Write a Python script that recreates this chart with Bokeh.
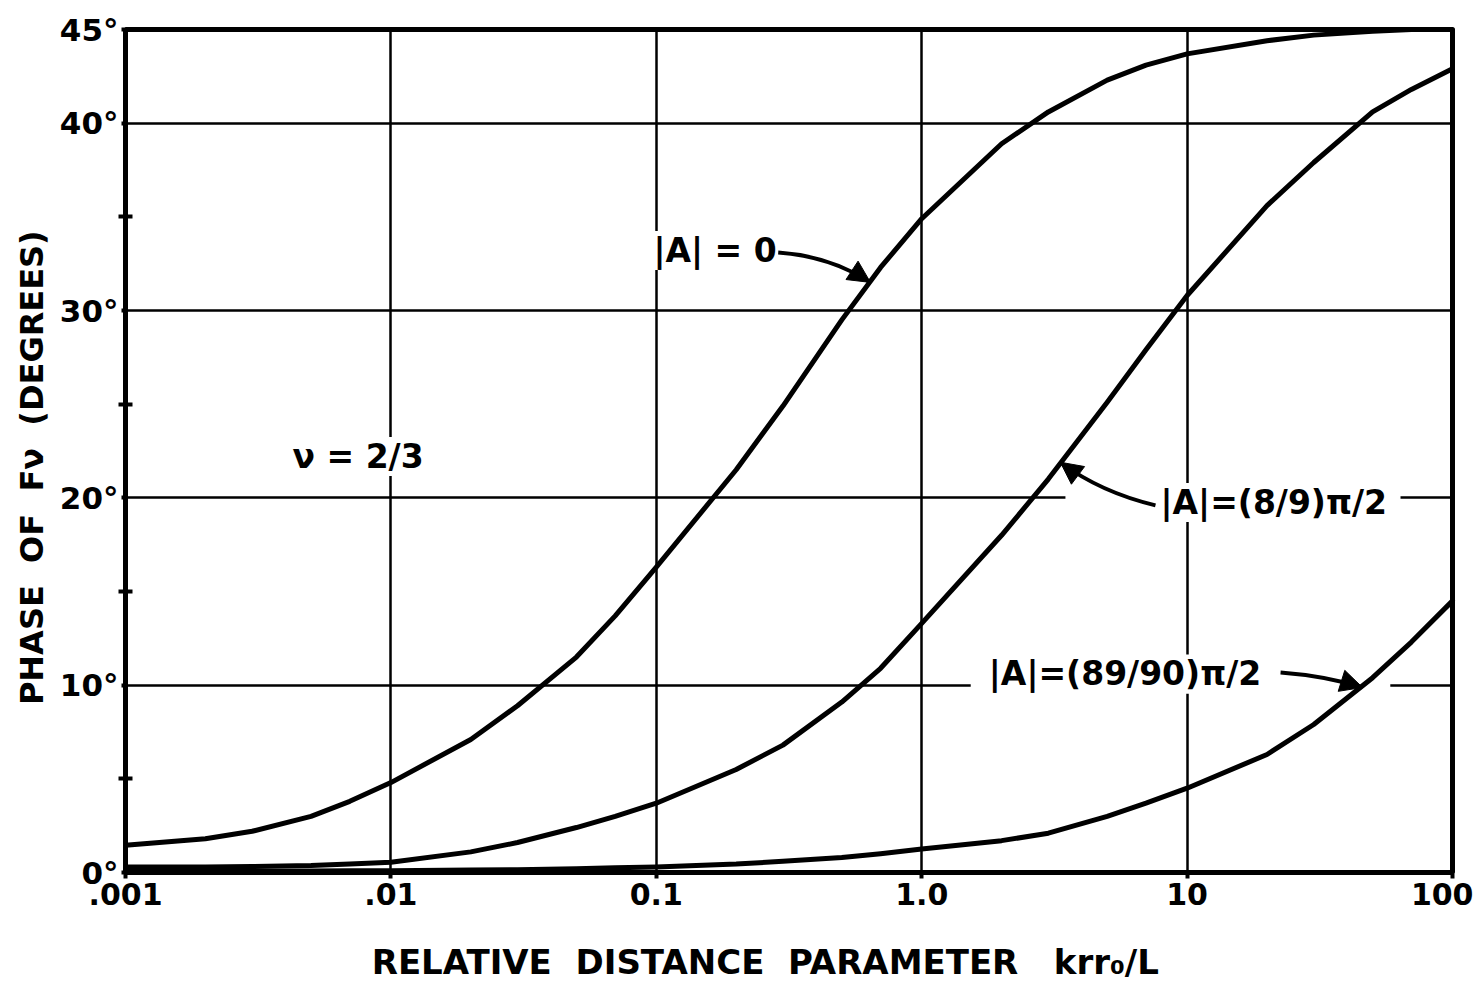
from bokeh.plotting import figure
from bokeh.models import (FixedTicker, PrintfTickFormatter, Label, Arrow, NormalHead,
                          Range1d, BoxAnnotation)
from bokeh.embed import file_html
from bokeh.resources import INLINE

# ---- data ----
x_vals = [0.001, 0.002, 0.003, 0.005, 0.007, 0.01, 0.02, 0.03, 0.05, 0.07, 0.1,
          0.2, 0.3, 0.5, 0.7, 1, 2, 3, 5, 7, 10, 20, 30, 50, 70, 100]
phase_a0 = [1.45, 1.8, 2.2, 3.0, 3.8, 4.8, 7.1, 8.9, 11.5, 13.7, 16.3,
            21.5, 24.9, 29.5, 32.3, 34.9, 38.9, 40.6, 42.3, 43.1, 43.7, 44.4, 44.7, 44.9, 45.0, 45.0]
phase_a8_9 = [0.3, 0.3, 0.32, 0.37, 0.45, 0.55, 1.1, 1.6, 2.4, 3.0, 3.7,
              5.5, 6.8, 9.1, 10.9, 13.3, 18.0, 21.0, 25.1, 27.9, 30.8, 35.6, 37.9, 40.6, 41.8, 42.9]
phase_a89_90 = [0.05, 0.06, 0.07, 0.08, 0.09, 0.1, 0.13, 0.15, 0.2, 0.25, 0.3,
                0.45, 0.6, 0.8, 1.0, 1.25, 1.7, 2.1, 3.0, 3.7, 4.5, 6.3, 7.9, 10.4, 12.3, 14.5]

x_ticks = [0.001, 0.01, 0.1, 1, 10, 100]
x_tick_labels = [".001", ".01", "0.1", "1.0", "10", "100"]
y_ticks = [0, 10, 20, 30, 40, 45]
y_minor_ticks = [5, 15, 25, 35]

SP = "\u00a0\u00a0"
x_label = ("RELATIVE" + SP + "DISTANCE" + SP + "PARAMETER" + SP + "\u00a0krr\u2080/L"
           + "\u00a0" * 4)
y_label = "PHASE" + SP + "OF" + SP + "F\u03bd" + SP + "(DEGREES)" + "\u00a0" * 3

# annotation anchors (data coordinates)
nu_text, nu_pos = "\u03bd = 2/3", (0.00426, 22.2)
lab_a0, lab_a0_pos = "|A| = 0", (0.0975, 33.2)
lab_a8, lab_a8_pos = "|A|=(8/9)\u03c0/2", (7.94, 19.75)
lab_a89, lab_a89_pos = "|A|=(89/90)\u03c0/2", (1.79, 10.6)
arrow_a0 = dict(x0=0.288, y0=33.1, cx=0.453, cy=32.9, x1=0.641, y1=31.5)
arrow_a8 = dict(x0=7.60, y0=19.6, cx=4.72, cy=20.3, x1=3.33, y1=21.9)
arrow_a89 = dict(x0=22.5, y0=10.68, cx=33.2, cy=10.5, x1=45.8, y1=9.88)
gap_20 = (3.48, 63.7, 19.55, 20.45)
gap_10 = (1.53, 58.3, 9.55, 10.45)

FONT = "DejaVu Sans"

p = figure(width=1473, height=989, x_axis_type="log",
           x_range=Range1d(0.001, 100), y_range=Range1d(0, 45),
           output_backend="svg", toolbar_location=None,
           min_border_left=125, min_border_right=21,
           min_border_top=29, min_border_bottom=117)
p.background_fill_color = "white"
p.border_fill_color = "white"
p.outline_line_color = "black"
p.outline_line_width = 5

# axes
xt = FixedTicker(ticks=x_ticks, minor_ticks=[])
p.xaxis.ticker = xt
p.xaxis.major_label_overrides = {t: l for t, l in zip(x_ticks, x_tick_labels)}
p.xaxis.axis_label = x_label
yt = FixedTicker(ticks=y_ticks, minor_ticks=y_minor_ticks)
p.yaxis.ticker = yt
p.yaxis.formatter = PrintfTickFormatter(format="%d\u00b0")
p.yaxis.axis_label = y_label

for ax in (p.xaxis, p.yaxis):
    ax.axis_line_color = "black"
    ax.axis_line_width = 5
    ax.major_tick_line_color = "black"
    ax.major_tick_line_width = 4
    ax.major_tick_out = 6
    ax.major_tick_in = 0
    ax.minor_tick_line_color = "black"
    ax.minor_tick_line_width = 4
    ax.major_label_text_font = FONT
    ax.major_label_text_font_style = "bold"
    ax.major_label_text_color = "black"
    ax.axis_label_text_font = FONT
    ax.axis_label_text_font_style = "bold"
    ax.axis_label_text_color = "black"

p.xaxis.major_label_text_font_size = "30px"
p.xaxis.major_label_standoff = 4
p.xaxis.axis_label_text_font_size = "34px"
p.xaxis.axis_label_standoff = 34
p.yaxis.major_label_text_font_size = "31px"
p.yaxis.major_label_standoff = 0
p.yaxis.major_tick_out = 4
p.yaxis.minor_tick_in = 7
p.yaxis.minor_tick_out = 7
p.yaxis.axis_label_text_font_size = "32px"
p.yaxis.axis_label_standoff = 6

p.xgrid.ticker = xt
p.ygrid.ticker = yt
for g in (p.xgrid, p.ygrid):
    g.grid_line_color = "black"
    g.grid_line_width = 2.5
    g.grid_line_alpha = 1

# gaps in the grid behind labels
for (l, r, b, t) in (gap_20, gap_10):
    p.add_layout(BoxAnnotation(left=l, right=r, bottom=b, top=t,
                               fill_color="white", fill_alpha=1,
                               line_alpha=0, level="annotation"))

# labels
def add_label(text, pos):
    p.add_layout(Label(x=pos[0], y=pos[1], text=text, text_font=FONT,
                       text_font_style="bold", text_font_size="33px",
                       text_color="black", text_align="left",
                       text_baseline="middle",
                       background_fill_color="white", background_fill_alpha=1))

add_label(nu_text, nu_pos)
add_label(lab_a0, lab_a0_pos)
add_label(lab_a8, lab_a8_pos)
add_label(lab_a89, lab_a89_pos)

# curves
for ys in (phase_a0, phase_a8_9, phase_a89_90):
    r = p.line(x_vals, ys, line_color="black", line_width=5,
               line_join="round", line_cap="round")
    r.level = "overlay"

# arrows
for a in (arrow_a0, arrow_a8, arrow_a89):
    q = p.quadratic(x0=[a["x0"]], y0=[a["y0"]], x1=[a["x1"]], y1=[a["y1"]],
                    cx=[a["cx"]], cy=[a["cy"]], line_color="black", line_width=4)
    q.level = "overlay"
    arr = Arrow(end=NormalHead(size=22, fill_color="black", line_color="black"),
                x_start=a["cx"], y_start=a["cy"], x_end=a["x1"], y_end=a["y1"],
                line_alpha=0, level="overlay")
    p.add_layout(arr)

open("out.html", "w").write(file_html(p, INLINE))
